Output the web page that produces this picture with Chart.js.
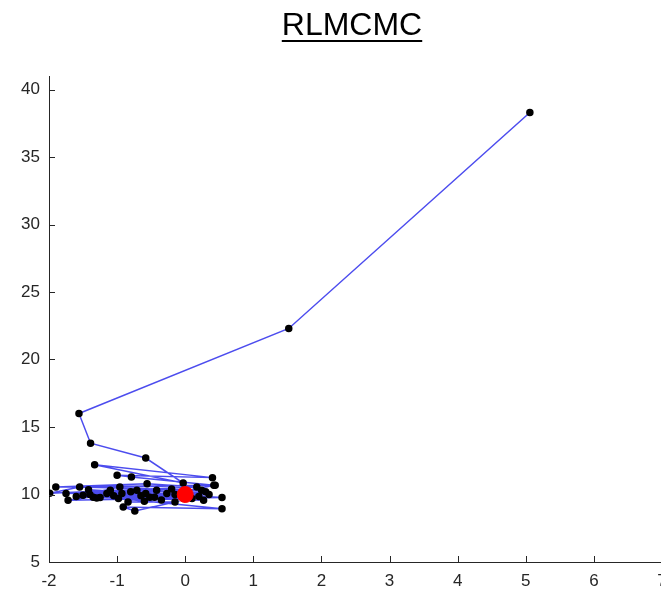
<!DOCTYPE html>
<html>
<head>
<meta charset="utf-8">
<script src="https://cdn.jsdelivr.net/npm/chart.js@4"></script>
<style>
    html, body { margin: 0; padding: 0; background: #fff; overflow: hidden; }
    #wrap { position: relative; width: 700px; height: 591px; }
    #title {
        position: absolute; left: 0; width: 704px; top: 6px;
        text-align: center; font: 32px "Liberation Sans", Arial, sans-serif;
        color: #000; text-decoration: underline;
        text-decoration-thickness: 2px; text-underline-offset: 5px;
    }
    canvas { position: absolute; left: 0; top: 0; }
</style>
</head>
<body>
<div id="wrap">
    <canvas id="chainChart" width="700" height="591"></canvas>
    <div id="title">RLMCMC</div>
</div>
<script>
// chain samples
const chainX = [5.06, 1.52, -1.56, -1.39, -0.58, -0.03, -1.33, 0.40, -1.00, -0.79,
    0.42, -1.90, -0.56, 0.17, -1.99, -1.55, 0.24, -1.75, -0.71, -1.72,
    0.54, -1.42, -0.93, -1.35, 0.27, -1.25, -0.42, -1.10, -0.27, -0.98,
    0.54, -0.91, -0.74, -0.15, -0.84, -0.58, -1.15, -0.52, 0.44, -0.96,
    -1.60, 0.30, -0.60, -0.20, -1.40, 0.10, -0.80, -0.35, -1.05, 0.35,
    -0.65, -1.30, 0.20, -1.50, -0.45, -0.15];
const chainY = [38.3, 22.3, 16.0, 13.8, 12.7, 10.85, 12.2, 11.25, 11.42, 11.3,
    10.68, 10.55, 10.8, 10.55, 10.1, 10.55, 10.31, 10.07, 10.31, 9.57,
    9.77, 10.36, 10.07, 9.8, 9.57, 9.77, 10.31, 10.31, 10.07, 9.7,
    8.95, 9.07, 8.78, 9.44, 9.44, 10.07, 10.07, 9.8, 10.68, 10.55,
    9.85, 10.2, 9.5, 10.4, 10.0, 9.7, 10.2, 9.6, 9.9, 10.0,
    9.9, 9.75, 9.85, 9.95, 9.8, 10.0];
// target point
const targetX = [0];
const targetY = [10];
// axis ticks
const xTicks = [-2, -1, 0, 1, 2, 3, 4, 5, 6, 7];
const yTicks = [5, 10, 15, 20, 25, 30, 35, 40];

const axisColor = '#262626';
const tickFont = { family: '"Liberation Sans", Arial, sans-serif', size: 17 };

const inwardTicks = {
    id: 'inwardTicks',
    afterDraw(chart) {
        const c = chart.ctx, a = chart.chartArea;
        const xs = chart.scales.x, ys = chart.scales.y;
        c.save();
        c.strokeStyle = axisColor;
        c.lineWidth = 1;
        c.beginPath();
        xTicks.forEach(v => {
            const px = Math.round(xs.getPixelForValue(v)) + 0.5;
            c.moveTo(px, a.bottom);
            c.lineTo(px, a.bottom - 6);
        });
        yTicks.forEach(v => {
            const py = Math.round(ys.getPixelForValue(v)) + 0.5;
            c.moveTo(a.left, py);
            c.lineTo(a.left + 6, py);
        });
        c.stroke();
        c.restore();
    }
};

const ctx = document.getElementById('chainChart').getContext('2d');
new Chart(ctx, {
    type: 'scatter',
    data: {
        datasets: [{
            data: targetX.map((x, i) => ({ x: x, y: targetY[i] })),
            pointRadius: 8,
            pointBackgroundColor: '#ff0000',
            pointBorderColor: '#ff0000',
            showLine: false,
            order: 0
        }, {
            data: chainX.map((x, i) => ({ x: x, y: chainY[i] })),
            showLine: true,
            borderColor: 'rgba(45, 45, 235, 0.85)',
            borderWidth: 1.5,
            pointRadius: 3,
            pointBackgroundColor: '#000',
            pointBorderColor: '#000',
            order: 1
        }]
    },
    options: {
        responsive: false,
        animation: false,
        layout: { padding: { top: 76, right: 38, left: 0, bottom: 0 } },
        plugins: { legend: { display: false }, tooltip: { enabled: false } },
        scales: {
            x: {
                type: 'linear', min: -2, max: 7,
                afterBuildTicks: s => { s.ticks = xTicks.map(v => ({ value: v })); },
                afterFit: s => { s.height = 29; },
                grid: { drawOnChartArea: false, drawTicks: false },
                border: { color: axisColor, width: 1 },
                ticks: { color: axisColor, font: tickFont, padding: 9, maxRotation: 0 }
            },
            y: {
                type: 'linear', min: 5, max: 41,
                afterBuildTicks: s => { s.ticks = yTicks.map(v => ({ value: v })); },
                afterFit: s => { s.width = 49; },
                grid: { drawOnChartArea: false, drawTicks: false },
                border: { color: axisColor, width: 1 },
                ticks: { color: axisColor, font: tickFont, padding: 9 }
            }
        }
    },
    plugins: [inwardTicks]
});
</script>
</body>
</html>
